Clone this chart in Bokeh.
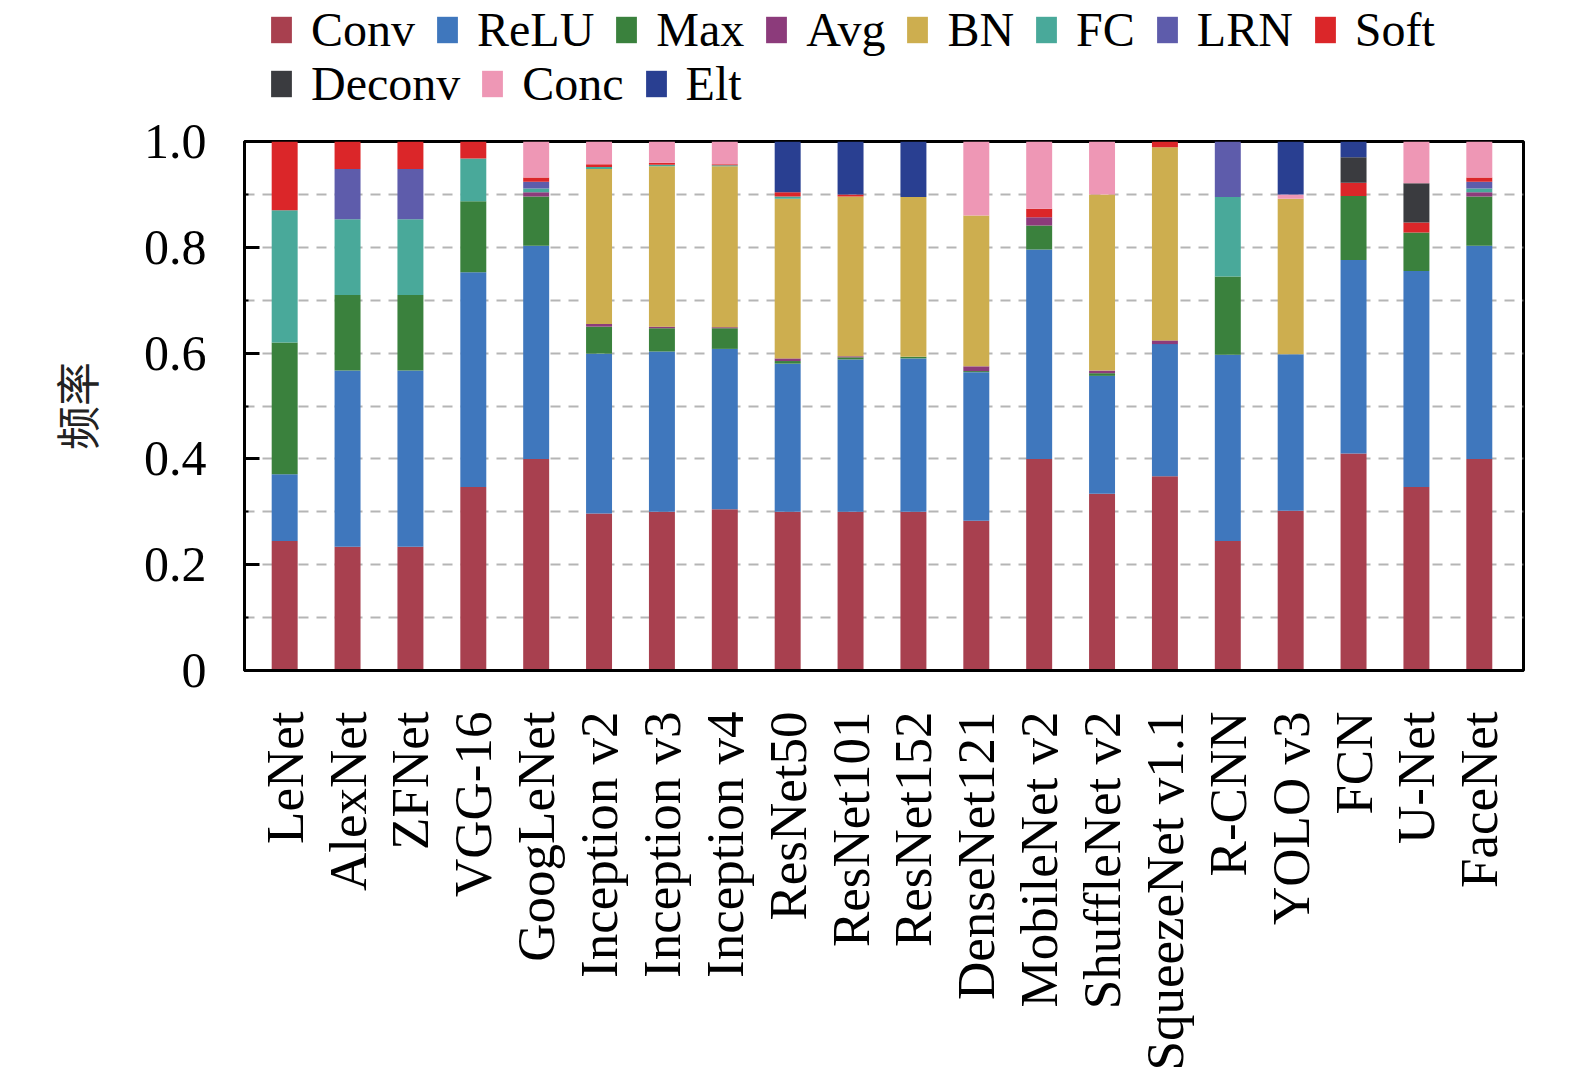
import math
from bokeh.plotting import figure
from bokeh.layouts import column
from bokeh.models import Range1d, FixedTicker, Legend, LegendItem, ColumnDataSource
from bokeh.embed import file_html
from bokeh.resources import INLINE

networks = ["LeNet", "AlexNet", "ZFNet", "VGG-16", "GoogLeNet", "Inception v2", "Inception v3",
            "Inception v4", "ResNet50", "ResNet101", "ResNet152", "DenseNet121", "MobileNet v2",
            "ShuffleNet v2", "SqueezeNet v1.1", "R-CNN", "YOLO v3", "FCN", "U-Net", "FaceNet"]

layers = ["Conv", "ReLU", "Max", "Avg", "BN", "FC", "LRN", "Soft", "Deconv", "Conc", "Elt"]

Conv   = [0.245, 0.234, 0.234, 0.347, 0.400, 0.297, 0.300, 0.305, 0.300, 0.300, 0.300, 0.283, 0.400, 0.334, 0.367, 0.245, 0.302, 0.410, 0.347, 0.400]
ReLU   = [0.126, 0.333, 0.333, 0.406, 0.403, 0.302, 0.303, 0.303, 0.280, 0.288, 0.290, 0.281, 0.396, 0.223, 0.250, 0.352, 0.296, 0.366, 0.408, 0.403]
Max    = [0.249, 0.143, 0.143, 0.134, 0.093, 0.051, 0.044, 0.039, 0.005, 0.004, 0.003, 0.002, 0.045, 0.005, 0.000, 0.148, 0.000, 0.121, 0.073, 0.093]
Avg    = [0.000, 0.000, 0.000, 0.000, 0.008, 0.005, 0.003, 0.002, 0.005, 0.002, 0.000, 0.009, 0.016, 0.005, 0.007, 0.000, 0.000, 0.000, 0.000, 0.008]
BN     = [0.000, 0.000, 0.000, 0.000, 0.000, 0.293, 0.303, 0.304, 0.302, 0.302, 0.302, 0.285, 0.000, 0.333, 0.365, 0.000, 0.294, 0.000, 0.000, 0.000]
FC     = [0.250, 0.143, 0.143, 0.081, 0.007, 0.004, 0.003, 0.002, 0.004, 0.000, 0.000, 0.000, 0.000, 0.000, 0.000, 0.150, 0.000, 0.000, 0.000, 0.007]
LRN    = [0.000, 0.095, 0.095, 0.000, 0.013, 0.000, 0.000, 0.000, 0.000, 0.000, 0.000, 0.000, 0.000, 0.000, 0.000, 0.105, 0.000, 0.000, 0.000, 0.013]
Soft   = [0.130, 0.052, 0.052, 0.032, 0.008, 0.005, 0.004, 0.002, 0.008, 0.004, 0.000, 0.000, 0.016, 0.000, 0.011, 0.000, 0.000, 0.025, 0.019, 0.008]
Deconv = [0.000, 0.000, 0.000, 0.000, 0.000, 0.000, 0.000, 0.000, 0.000, 0.000, 0.000, 0.000, 0.000, 0.000, 0.000, 0.000, 0.000, 0.048, 0.074, 0.000]
Conc   = [0.000, 0.000, 0.000, 0.000, 0.068, 0.043, 0.040, 0.043, 0.000, 0.000, 0.000, 0.140, 0.127, 0.100, 0.000, 0.000, 0.008, 0.000, 0.079, 0.068]
Elt    = [0.000, 0.000, 0.000, 0.000, 0.000, 0.000, 0.000, 0.000, 0.096, 0.100, 0.105, 0.000, 0.000, 0.000, 0.000, 0.000, 0.100, 0.030, 0.000, 0.000]

colors = ["#A8404F", "#3F77BD", "#3A813D", "#8C3B7B", "#CDAE4F", "#49A99A",
          "#5E5CAB", "#DB2629", "#3A3B3F", "#EE97B5", "#293F91"]

y_ticks = [0, 0.2, 0.4, 0.6, 0.8, 1.0]
y_tick_labels = ["0", "0.2", "0.4", "0.6", "0.8", "1.0"]

data = dict(x=list(range(len(networks))), Conv=Conv, ReLU=ReLU, Max=Max, Avg=Avg, BN=BN, FC=FC,
            LRN=LRN, Soft=Soft, Deconv=Deconv, Conc=Conc, Elt=Elt)
source = ColumnDataSource(data)

serif = "Liberation Serif"
FW = 1279
LEG_H = 112

# ---------------- main chart ----------------
p = figure(frame_width=FW, frame_height=529, output_backend="svg", toolbar_location=None,
           x_range=Range1d(-0.639, 19.703), y_range=Range1d(0, 1),
           min_border_left=244, min_border_right=36, min_border_top=141 - LEG_H, min_border_bottom=380)

renderers = p.vbar_stack(layers, x="x", width=0.413, source=source, color=colors, line_color=None)

p.outline_line_color = "black"
p.outline_line_width = 3
p.background_fill_color = "white"

p.xgrid.visible = False
p.ygrid.ticker = FixedTicker(ticks=[0.1, 0.2, 0.3, 0.4, 0.5, 0.6, 0.7, 0.8, 0.9])
p.ygrid.grid_line_color = "#b5b5b5"
p.ygrid.grid_line_width = 2
p.ygrid.grid_line_dash = "10 8"

ya = p.yaxis[0]
ya.ticker = FixedTicker(ticks=y_ticks, minor_ticks=[0.1, 0.3, 0.5, 0.7, 0.9])
ya.major_label_overrides = {t: l for t, l in zip(y_ticks, y_tick_labels)}
ya.axis_line_width = 3
ya.axis_line_color = "black"
ya.major_tick_in = 15
ya.major_tick_out = 0
ya.major_tick_line_width = 3
ya.minor_tick_in = 4
ya.minor_tick_out = 0
ya.minor_tick_line_width = 2
ya.major_label_text_font = serif
ya.major_label_text_font_size = "50px"
ya.major_label_text_color = "black"
ya.major_label_standoff = 38
ya.axis_label = "频率"
ya.axis_label_text_font = "Noto Sans CJK SC"
ya.axis_label_text_font_size = "44px"
ya.axis_label_text_font_style = "normal"
ya.axis_label_text_color = "#222222"
ya.axis_label_standoff = 33

xa = p.xaxis[0]
xa.ticker = FixedTicker(ticks=list(range(len(networks))))
xa.major_label_overrides = {i: n for i, n in enumerate(networks)}
xa.major_label_orientation = math.pi / 2
xa.axis_line_width = 3
xa.axis_line_color = "black"
xa.major_tick_in = 0
xa.major_tick_out = 0
xa.minor_tick_line_color = None
xa.major_label_text_font = serif
xa.major_label_text_font_size = "53px"
xa.major_label_text_color = "black"
xa.major_label_standoff = 41

# ---------------- legend strip (same series, bars kept out of view) ----------------
lf = figure(frame_width=FW, frame_height=LEG_H, output_backend="svg", toolbar_location=None,
            x_range=Range1d(-0.639, 19.703), y_range=Range1d(5, 6),
            x_axis_location=None, y_axis_location=None,
            min_border_left=244, min_border_right=36, min_border_top=0, min_border_bottom=0)
lf.grid.visible = False
lf.outline_line_color = None
legend_renderers = lf.vbar_stack(layers, x="x", width=0.413, source=source, color=colors, line_color=None)

items = [LegendItem(label=name, renderers=[r]) for name, r in zip(layers, legend_renderers)]


def make_legend(its, loc):
    lg = Legend(items=its, location=loc, orientation="horizontal")
    lg.label_text_font = serif
    lg.label_text_font_size = "48px"
    lg.label_text_color = "black"
    lg.glyph_width = 26
    lg.glyph_height = 33
    lg.label_standoff = 17
    lg.spacing = 19
    lg.padding = 0
    lg.margin = 0
    lg.border_line_color = None
    lg.background_fill_alpha = 0
    return lg


lf.add_layout(make_legend(items[:8], (24, 55)))
lf.add_layout(make_legend(items[8:], (24, 1)))

layout = column(lf, p, spacing=0)
open("out.html", "w").write(file_html(layout, INLINE))
